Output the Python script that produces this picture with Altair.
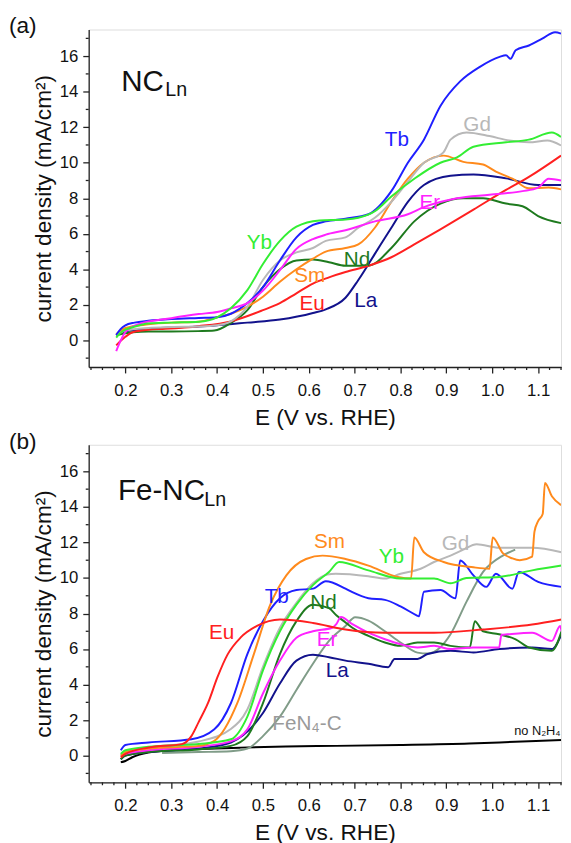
import altair as alt
import pandas as pd

FONT = "Liberation Sans"

# ---------------- colours ----------------
COL = {
    "La": "#12128c", "Nd": "#1e7a1e", "Sm": "#ff8a1c", "Eu": "#ff2020",
    "Gd": "#b8b8b8", "Tb": "#1f1fff", "Er": "#ff22ff", "Yb": "#33ee33",
    "FeN4-C": "#809c88", "no N2H4": "#000000",
}

# ---------------- panel (a): NC_Ln ----------------
a_La_V = [0.18, 0.2, 0.25, 0.3, 0.36, 0.40, 0.466, 0.537, 0.609, 0.637, 0.68, 0.708, 0.744, 0.78, 0.816, 0.851, 0.909, 0.959, 1.03, 1.10, 1.15]
a_La_I = [0.3, 0.5, 0.65, 0.72, 0.78, 0.85, 1.0, 1.17, 1.54, 1.75, 2.4, 3.4, 4.87, 6.34, 7.8, 8.75, 9.27, 9.34, 9.12, 8.75, 8.75]

a_Nd_V = [0.18, 0.2, 0.216, 0.25, 0.3, 0.359, 0.394, 0.43, 0.466, 0.50, 0.537, 0.573, 0.609, 0.644, 0.68, 0.73, 0.78, 0.83, 0.887, 0.937, 0.98, 1.03, 1.066, 1.10, 1.15]
a_Nd_I = [0.28, 0.4, 0.46, 0.5, 0.5, 0.52, 0.55, 0.98, 1.7, 3.0, 4.0, 4.5, 4.55, 4.4, 4.2, 4.2, 5.2, 6.7, 7.7, 8.0, 8.0, 7.7, 7.55, 7.0, 6.6]

a_Sm_V = [0.18, 0.2, 0.25, 0.3, 0.36, 0.40, 0.43, 0.466, 0.50, 0.537, 0.573, 0.609, 0.637, 0.68, 0.708, 0.744, 0.78, 0.816, 0.851, 0.894, 0.937, 0.98, 1.008, 1.044, 1.08, 1.123, 1.15]
a_Sm_I = [0.35, 0.7, 0.9, 1.0, 1.05, 1.3, 1.5, 1.9, 2.46, 3.3, 4.0, 4.6, 5.0, 5.2, 5.4, 6.34, 7.8, 9.1, 10.0, 10.4, 10.05, 9.9, 9.5, 9.1, 8.56, 8.6, 8.5]

a_Eu_V = [0.18, 0.2, 0.216, 0.25, 0.287, 0.36, 0.43, 0.50, 0.537, 0.573, 0.609, 0.644, 0.68, 0.73, 0.78, 0.83, 0.887, 0.959, 1.03, 1.08, 1.15]
a_Eu_I = [-0.28, 0.2, 0.46, 0.6, 0.65, 0.8, 1.07, 1.7, 2.1, 2.65, 3.2, 3.55, 3.85, 4.2, 4.68, 5.4, 6.25, 7.36, 8.47, 9.2, 10.4]

a_Gd_V = [0.18, 0.2, 0.25, 0.3, 0.36, 0.40, 0.43, 0.466, 0.50, 0.537, 0.573, 0.609, 0.637, 0.68, 0.708, 0.744, 0.78, 0.816, 0.851, 0.894, 0.909, 0.944, 0.994, 1.037, 1.08, 1.12, 1.15]
a_Gd_I = [0.3, 0.55, 0.7, 0.75, 0.78, 0.85, 1.07, 1.9, 3.4, 4.5, 4.95, 5.2, 5.6, 5.8, 6.34, 6.9, 7.8, 8.93, 10.0, 10.6, 11.3, 11.7, 11.5, 11.25, 11.15, 11.25, 10.97]

a_Tb_V = [0.18, 0.19, 0.2, 0.22, 0.25, 0.3, 0.36, 0.40, 0.43, 0.466, 0.50, 0.537, 0.573, 0.609, 0.637, 0.68, 0.73, 0.78, 0.816, 0.851, 0.887, 0.93, 0.973, 1.016, 1.03, 1.04, 1.051, 1.08, 1.109, 1.137, 1.15]
a_Tb_I = [0.3, 0.65, 0.85, 1.0, 1.1, 1.2, 1.26, 1.3, 1.5, 2.1, 3.0, 4.5, 5.8, 6.5, 6.7, 6.85, 7.1, 8.4, 10.0, 11.3, 13.2, 14.58, 15.4, 15.96, 16.05, 15.85, 16.33, 16.6, 16.98, 17.35, 17.27]

a_Er_V = [0.18, 0.19, 0.2, 0.23, 0.3, 0.36, 0.40, 0.43, 0.466, 0.50, 0.537, 0.573, 0.609, 0.637, 0.68, 0.744, 0.816, 0.851, 0.923, 0.994, 1.066, 1.10, 1.123, 1.15]
a_Er_I = [-0.6, 0.0, 0.46, 0.93, 1.25, 1.48, 1.6, 1.8, 2.1, 2.8, 3.95, 5.15, 5.7, 5.95, 6.2, 6.7, 7.1, 7.5, 8.0, 8.2, 8.4, 8.6, 9.1, 9.0]

a_Yb_V = [0.18, 0.19, 0.2, 0.216, 0.25, 0.3, 0.36, 0.40, 0.43, 0.466, 0.50, 0.537, 0.573, 0.623, 0.68, 0.708, 0.744, 0.78, 0.83, 0.887, 0.923, 0.959, 1.03, 1.08, 1.13, 1.15]
a_Yb_I = [0.15, 0.45, 0.6, 0.74, 0.95, 1.0, 1.05, 1.3, 1.81, 2.83, 4.3, 5.6, 6.4, 6.75, 6.8, 6.9, 7.27, 8.1, 9.1, 10.0, 10.3, 10.9, 11.15, 11.3, 11.7, 11.45]

a_series = [
    ("La", a_La_V, a_La_I), ("Nd", a_Nd_V, a_Nd_I), ("Sm", a_Sm_V, a_Sm_I),
    ("Eu", a_Eu_V, a_Eu_I), ("Gd", a_Gd_V, a_Gd_I), ("Tb", a_Tb_V, a_Tb_I),
    ("Er", a_Er_V, a_Er_I), ("Yb", a_Yb_V, a_Yb_I),
]

a_lbl_text = ["Tb", "Gd", "Er", "Nd", "La", "Yb", "Sm", "Eu"]
a_lbl_V = [0.792, 0.967, 0.864, 0.705, 0.724, 0.492, 0.602, 0.607]
a_lbl_I = [11.3, 12.1, 7.7, 4.5, 2.2, 5.47, 3.63, 2.05]

# ---------------- panel (b): Fe-NC_Ln ----------------
b_black_V = [0.19, 0.2, 0.215, 0.25, 0.3, 0.36, 0.45, 0.55, 0.659, 0.8, 0.95, 1.05, 1.151]
b_black_I = [-0.37, -0.3, -0.09, 0.18, 0.3, 0.37, 0.45, 0.52, 0.55, 0.6, 0.68, 0.78, 0.88]

b_Fe_V = [0.28, 0.36, 0.43, 0.466, 0.50, 0.537, 0.573, 0.609, 0.644, 0.68, 0.701, 0.73, 0.766, 0.80, 0.837, 0.86, 0.887, 0.909, 0.944, 0.98, 1.023, 1.044, 1.05]
b_Fe_I = [0.15, 0.2, 0.25, 0.4, 1.1, 2.2, 3.7, 5.17, 6.46, 7.3, 7.79, 7.6, 7.0, 6.37, 5.8, 5.75, 6.1, 6.83, 8.67, 10.34, 11.26, 11.53, 11.6]

b_La_V = [0.19, 0.2, 0.25, 0.36, 0.43, 0.50, 0.537, 0.573, 0.609, 0.644, 0.68, 0.73, 0.773, 0.787, 0.837, 0.859, 0.909, 0.959, 1.015, 1.087, 1.13, 1.151]
b_La_I = [-0.2, 0.0, 0.2, 0.4, 0.74, 2.4, 4.06, 5.35, 5.68, 5.54, 5.35, 5.17, 4.98, 5.44, 5.44, 5.72, 5.9, 5.81, 6.0, 6.09, 6.0, 6.83]

b_Nd_V = [0.19, 0.2, 0.25, 0.36, 0.43, 0.466, 0.50, 0.537, 0.573, 0.609, 0.644, 0.66, 0.68, 0.695, 0.73, 0.766, 0.80, 0.837, 0.873, 0.909, 0.951, 0.962, 0.98, 1.015, 1.051, 1.08, 1.13, 1.151]
b_Nd_I = [-0.2, 0.0, 0.2, 0.35, 0.55, 1.1, 2.95, 5.72, 7.57, 8.5, 8.3, 7.9, 7.5, 7.2, 6.74, 6.37, 6.18, 6.37, 6.37, 6.18, 6.09, 7.57, 7.0, 6.83, 6.55, 6.09, 5.9, 7.0]

b_Er_V = [0.19, 0.2, 0.25, 0.36, 0.43, 0.466, 0.50, 0.537, 0.573, 0.609, 0.651, 0.66, 0.67, 0.695, 0.73, 0.766, 0.80, 0.837, 0.873, 0.909, 0.959, 1.015, 1.02, 1.033, 1.087, 1.13, 1.148, 1.151]
b_Er_I = [0.0, 0.1, 0.3, 0.5, 0.8, 1.48, 3.5, 5.35, 6.64, 7.0, 7.2, 7.4, 7.8, 7.4, 6.92, 6.55, 6.27, 6.09, 6.18, 6.0, 6.09, 6.09, 6.8, 6.83, 6.92, 6.46, 7.3, 7.0]

b_Gd_V = [0.19, 0.2, 0.25, 0.36, 0.43, 0.466, 0.50, 0.537, 0.573, 0.609, 0.64, 0.659, 0.73, 0.766, 0.80, 0.844, 0.873, 0.909, 0.937, 0.966, 1.015, 1.087, 1.151]
b_Gd_I = [0.0, 0.2, 0.45, 0.8, 1.5, 2.6, 5.0, 7.2, 8.6, 9.7, 10.2, 10.24, 10.1, 9.97, 10.24, 10.52, 10.9, 11.26, 11.6, 11.9, 11.7, 11.7, 11.45]

b_Tb_V = [0.19, 0.2, 0.251, 0.344, 0.394, 0.43, 0.466, 0.50, 0.537, 0.573, 0.609, 0.637, 0.68, 0.695, 0.73, 0.766, 0.80, 0.835, 0.84, 0.851, 0.887, 0.92, 0.93, 0.959, 0.987, 1.008, 1.044, 1.058, 1.1, 1.151]
b_Tb_I = [0.3, 0.6, 0.74, 0.92, 1.48, 2.95, 5.72, 7.57, 8.86, 9.32, 9.4, 9.82, 9.4, 9.2, 8.86, 8.77, 8.4, 7.9, 7.84, 9.23, 9.32, 8.86, 10.98, 10.15, 9.5, 10.24, 9.4, 10.34, 9.78, 9.5]

b_Sm_V = [0.19, 0.2, 0.25, 0.36, 0.394, 0.444, 0.48, 0.516, 0.551, 0.594, 0.63, 0.68, 0.73, 0.794, 0.823, 0.83, 0.851, 0.894, 0.959, 0.994, 1.001, 1.023, 1.044, 1.06, 1.087, 1.092, 1.1, 1.11, 1.115, 1.13, 1.15]
b_Sm_I = [0.0, 0.2, 0.4, 0.55, 0.83, 2.95, 5.7, 8.5, 10.15, 11.07, 11.26, 11.07, 10.7, 10.06, 9.97, 12.28, 11.45, 10.9, 10.6, 10.52, 12.28, 11.4, 11.1, 11.0, 11.2, 12.6, 13.2, 13.6, 15.35, 14.6, 14.1]

b_Yb_V = [0.19, 0.2, 0.25, 0.36, 0.43, 0.466, 0.50, 0.537, 0.573, 0.609, 0.644, 0.666, 0.73, 0.80, 0.873, 0.909, 0.944, 1.015, 1.087, 1.151]
b_Yb_I = [0.1, 0.3, 0.5, 0.65, 0.92, 2.2, 4.8, 7.0, 8.5, 9.6, 10.34, 10.9, 10.43, 9.97, 9.97, 9.7, 10.0, 10.06, 10.43, 10.7]

b_Eu_V = [0.19, 0.2, 0.251, 0.323, 0.344, 0.36, 0.38, 0.401, 0.423, 0.451, 0.487, 0.537, 0.609, 0.68, 0.766, 0.873, 0.98, 1.087, 1.151]
b_Eu_I = [-0.1, 0.1, 0.46, 0.65, 1.1, 1.9, 2.95, 4.43, 5.7, 6.64, 7.3, 7.66, 7.47, 7.1, 6.92, 6.92, 7.1, 7.38, 7.66]

b_series = [
    ("no N2H4", b_black_V, b_black_I), ("FeN4-C", b_Fe_V, b_Fe_I),
    ("La", b_La_V, b_La_I), ("Nd", b_Nd_V, b_Nd_I), ("Er", b_Er_V, b_Er_I),
    ("Gd", b_Gd_V, b_Gd_I), ("Tb", b_Tb_V, b_Tb_I), ("Sm", b_Sm_V, b_Sm_I),
    ("Yb", b_Yb_V, b_Yb_I), ("Eu", b_Eu_V, b_Eu_I),
]

b_lbl_text = ["Sm", "Yb", "Gd", "Tb", "Nd", "Eu", "Er", "La", "FeN\u2084-C"]
b_lbl_key = ["Sm", "Yb", "Gd", "Tb", "Nd", "Eu", "Er", "La", "FeN4-C lbl"]
b_lbl_V = [0.645, 0.78, 0.92, 0.53, 0.632, 0.41, 0.64, 0.662, 0.596]
b_lbl_I = [12.0, 11.2, 11.9, 8.9, 8.6, 6.9, 6.5, 4.77, 1.8]

# ---------------- ticks ----------------
x_major = [0.2, 0.3, 0.4, 0.5, 0.6, 0.7, 0.8, 0.9, 1.0, 1.1]
x_minor = [0.125, 0.15, 0.175, 0.225, 0.25, 0.275, 0.325, 0.35, 0.375, 0.425, 0.45,
           0.475, 0.525, 0.55, 0.575, 0.625, 0.65, 0.675, 0.725, 0.75, 0.775, 0.825,
           0.85, 0.875, 0.925, 0.95, 0.975, 1.025, 1.05, 1.075, 1.125, 1.15]
y_major = [0, 2, 4, 6, 8, 10, 12, 14, 16]
y_minor = [-1, 1, 3, 5, 7, 9, 11, 13, 15, 17]

X_DOMAIN = [0.12, 1.15]
Y_DOMAIN = [-1.5, 17.5]
W, H = 480, 343
AXC = "#222222"

xaxis = alt.Axis(
    values=x_major, format=".1f", title="E (V vs. RHE)", tickSize=6,
    labelFontSize=17, titleFontSize=23, labelPadding=10, titlePadding=8,
    labelFont=FONT, titleFont=FONT, titleFontWeight="normal",
    labelColor="#111", titleColor="#111", domainColor=AXC, tickColor=AXC,
    domainWidth=1.3, tickWidth=1.3, grid=False, labelFlush=False,
)
yaxis = alt.Axis(
    values=y_major, format="d", title="current density (mA/cm\u00b2)", tickSize=6,
    labelFontSize=17, titleFontSize=23, labelPadding=5, titlePadding=4,
    labelFont=FONT, titleFont=FONT, titleFontWeight="normal",
    labelColor="#111", titleColor="#111", domainColor=AXC, tickColor=AXC,
    domainWidth=1.3, tickWidth=1.3, grid=False, labelFlush=False,
)

color_domain = list(COL.keys()) + ["FeN4-C lbl"]
color_range = list(COL.values()) + ["#9a9a9a"]
cscale = alt.Scale(domain=color_domain, range=color_range)


def long_df(series):
    rows = []
    for order, (name, vs, cs) in enumerate(series):
        for v, c in zip(vs, cs):
            rows.append({"series": name, "V": v, "I": c, "ord": order})
    return pd.DataFrame(rows)


def panel(series, lbl_text, lbl_key, lbl_V, lbl_I, head_main, head_V, head_I, sub_V, sub_I, letter, extra=None):
    df = long_df(series)
    xs = alt.Scale(domain=X_DOMAIN, nice=False, zero=False)
    ys = alt.Scale(domain=Y_DOMAIN, nice=False, zero=False)

    def X(f):
        return alt.X(f, type="quantitative", scale=xs, axis=xaxis)

    def Y(f):
        return alt.Y(f, type="quantitative", scale=ys, axis=yaxis)

    lines = alt.Chart(df).mark_line(strokeWidth=2, interpolate="monotone", clip=True).encode(
        x=X("V"), y=Y("I"),
        color=alt.Color("series:N", scale=cscale, legend=None),
        detail="ord:N",
    )
    xm = alt.Chart(pd.DataFrame({"V": x_minor})).mark_rule(color=AXC, strokeWidth=1.3).encode(
        x=X("V"), y=alt.value(H), y2=alt.value(H + 3))
    ym = alt.Chart(pd.DataFrame({"I": y_minor})).mark_rule(color=AXC, strokeWidth=1.3).encode(
        y=Y("I"), x=alt.value(0), x2=alt.value(-3))
    ldf = pd.DataFrame({"t": lbl_text, "k": lbl_key, "V": lbl_V, "I": lbl_I})
    labels = alt.Chart(ldf).mark_text(font=FONT, fontSize=21, align="center", baseline="middle").encode(
        x=X("V"), y=Y("I"), text="t:N",
        color=alt.Color("k:N", scale=cscale, legend=None),
    )
    hdf = pd.DataFrame({"t": [head_main], "V": [head_V], "I": [head_I]})
    head = alt.Chart(hdf).mark_text(font=FONT, fontSize=30, align="left", baseline="alphabetic", color="#111").encode(
        x=X("V"), y=Y("I"), text="t:N")
    sdf = pd.DataFrame({"t": ["Ln"], "V": [sub_V], "I": [sub_I]})
    sub = alt.Chart(sdf).mark_text(font=FONT, fontSize=20, align="left", baseline="alphabetic", color="#111").encode(
        x=X("V"), y=Y("I"), text="t:N")
    tdf = pd.DataFrame({"t": [letter]})
    let = alt.Chart(tdf).mark_text(font=FONT, fontSize=23, align="left", baseline="alphabetic", color="#111").encode(
        x=alt.value(-81), y=alt.value(4), text="t:N")
    layers = [lines, xm, ym, labels, head, sub, let]
    if extra is not None:
        layers.append(extra(X, Y))
    return alt.layer(*layers).properties(width=W, height=H)


def no_n2h4(X, Y):
    ndf = pd.DataFrame({"t": ["no N\u2082H\u2084"], "V": [1.149], "I": [1.4]})
    return alt.Chart(ndf).mark_text(font=FONT, fontSize=13, align="right", baseline="middle", color="#111").encode(
        x=X("V"), y=Y("I"), text="t:N")


top = panel(a_series, a_lbl_text, a_lbl_text, a_lbl_V, a_lbl_I, "NC", 0.191, 14.02, 0.287, 13.75, "(a)")
bottom = panel(b_series, b_lbl_text, b_lbl_key, b_lbl_V, b_lbl_I, "Fe-NC", 0.184, 14.4, 0.372, 14.05, "(b)", extra=no_n2h4)

chart = alt.vconcat(top, bottom, spacing=0).properties(
    padding={"left": 0, "top": 0, "right": 0, "bottom": 0}
).configure_view(strokeWidth=0, stroke="transparent").configure(background="white")

chart.save("out.html", embed_options={"renderer": "svg", "actions": False})
